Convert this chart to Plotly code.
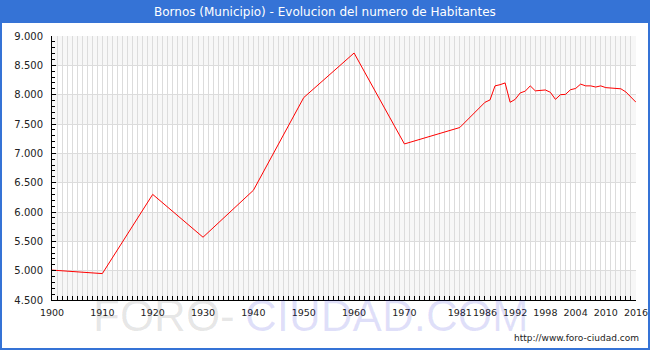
import plotly.graph_objects as go

# ---- data ----
years = [1900, 1910, 1920, 1930, 1940, 1950, 1960, 1970, 1981, 1986, 1987, 1988,
         1989, 1990, 1991, 1992, 1993, 1994, 1995, 1996, 1998, 1999, 2000, 2001,
         2002, 2003, 2004, 2005, 2006, 2007, 2008, 2009, 2010, 2011, 2012, 2013,
         2014, 2015, 2016]
population = [5010, 4950, 6300, 5570, 6370, 7950, 8710, 7160, 7440, 7870, 7910, 8150,
              8170, 8200, 7870, 7920, 8030, 8060, 8150, 8065, 8080, 8040, 7920, 8000,
              8005, 8085, 8105, 8180, 8150, 8150, 8130, 8150, 8120, 8115, 8115, 8100,
              8045, 7960, 7870]
x_tick_years = [1900, 1910, 1920, 1930, 1940, 1950, 1960, 1970, 1981, 1986, 1992,
                1998, 2004, 2010, 2016]
y_tick_values = [4500, 5000, 5500, 6000, 6500, 7000, 7500, 8000, 8500, 9000]
y_tick_labels = [f"{v:,}".replace(",", ".") for v in y_tick_values]
title_text = "Bornos (Municipio) - Evolucion del numero de Habitantes"

W, H = 650, 350
L, R, T, B = 52, 14, 36, 50
PW, PH = W - L - R, H - T - B
BLUE = "#3573d6"
GRID = "#dcdcdc"

def px(xp):
    return (xp - L) / PW

def py(yp):
    return (H - B - yp) / PH

fig = go.Figure()
fig.add_trace(go.Scatter(x=years, y=population, mode="lines",
                         line=dict(color="#ff0000", width=1), hoverinfo="skip"))

shapes = []
# alternating background bands
for i in range(len(y_tick_values) - 1):
    if i % 2 == 0:
        shapes.append(dict(type="rect", xref="paper", yref="y", x0=0, x1=1,
                           y0=y_tick_values[i], y1=y_tick_values[i + 1],
                           fillcolor="#f7f7f7", line=dict(width=0), layer="below"))
# title bar
shapes.append(dict(type="rect", xref="paper", yref="paper", x0=px(0), x1=px(W),
                   y0=py(23), y1=py(0), fillcolor=BLUE, line=dict(width=0), layer="below"))
# outer frame
shapes.append(dict(type="rect", xref="paper", yref="paper", x0=px(1), x1=px(W - 1),
                   y0=py(H - 1), y1=py(0), fillcolor="rgba(0,0,0,0)",
                   line=dict(color=BLUE, width=2), layer="above"))

annotations = [
    dict(text=title_text, xref="paper", yref="paper", x=px(325), y=py(12),
         xanchor="center", yanchor="middle", showarrow=False,
         font=dict(family="DejaVu Sans", size=12, color="white")),
    dict(text="FORO-", xref="paper", yref="paper", x=px(237), y=py(315),
         xanchor="right", yanchor="middle", showarrow=False,
         font=dict(family="Liberation Sans", size=44, color="rgba(0,0,0,0.1)")),
    dict(text="CIUDAD.COM", xref="paper", yref="paper", x=px(243), y=py(315),
         xanchor="left", yanchor="middle", showarrow=False,
         font=dict(family="Liberation Sans", size=44, color="rgba(0,0,210,0.12)")),
    dict(text="http://www.foro-ciudad.com", xref="paper", yref="paper",
         x=px(641), y=py(338), xanchor="right", yanchor="middle", showarrow=False,
         font=dict(family="DejaVu Sans", size=9, color="#222")),
]

fig.update_layout(
    width=W, height=H, margin=dict(l=L, r=R, t=T, b=B, autoexpand=False),
    paper_bgcolor="white", plot_bgcolor="white", showlegend=False,
    shapes=shapes, annotations=annotations,
    font=dict(family="DejaVu Sans", size=10, color="#222"),
)
fig.update_xaxes(
    range=[1900, 2016], tickmode="array", tickvals=x_tick_years,
    ticktext=[str(y) for y in x_tick_years], tickangle=0, automargin=False,
    tickfont=dict(family="DejaVu Sans", size=9.5, color="#222"),
    showgrid=True, gridcolor=GRID, gridwidth=1,
    showline=True, linecolor="black", linewidth=1,
    ticks="inside", ticklen=4, tickcolor="black",
    minor=dict(tickmode="linear", tick0=1900, dtick=1, showgrid=True,
               gridcolor=GRID, ticks="inside", ticklen=4, tickcolor="black"),
    zeroline=False, fixedrange=True, ticklabelstandoff=4,
)
fig.update_yaxes(
    range=[4500, 9000], tickmode="array", tickvals=y_tick_values,
    ticktext=y_tick_labels, automargin=False,
    showgrid=True, gridcolor=GRID, gridwidth=1,
    showline=True, linecolor="black", linewidth=1,
    ticks="inside", ticklen=4, tickcolor="black",
    minor=dict(tickmode="linear", tick0=4500, dtick=100, ticks="inside",
               ticklen=3, tickcolor="black", showgrid=False),
    zeroline=False, fixedrange=True, ticklabelstandoff=6,
)

fig.write_html("out.html", config={"displayModeBar": False})
